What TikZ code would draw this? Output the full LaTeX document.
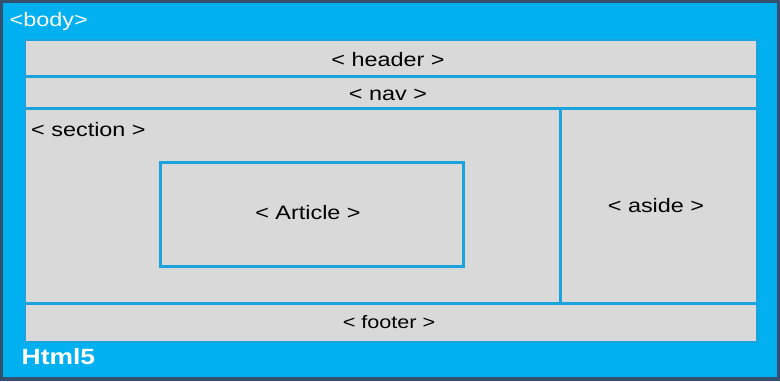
\documentclass[tikz,border=0pt]{standalone}
\usepackage{fontspec}
\setmainfont{Liberation Sans}
\definecolor{outerdark}{HTML}{34506E}
\definecolor{bodyblue}{HTML}{00B0F0}
\definecolor{lineblue}{HTML}{1BA3DD}
\definecolor{panelgray}{HTML}{D9D9D9}
\newcommand\hstretch[1]{\scalebox{1.2}[1]{#1}}
\tikzset{
  band/.style={rectangle, fill=panelgray, draw=lineblue, line width=2.6pt, anchor=north west, inner sep=0pt},
  lbl/.style={anchor=base, inner sep=0pt, text=black, font=\fontsize{19.5}{20}\selectfont},
  smalllbl/.style={lbl, font=\fontsize{18}{19}\selectfont},
  whitelbl/.style={anchor=base west, inner sep=0pt, text=white}
}
\begin{document}
\begin{tikzpicture}[x=1pt,y=-1pt]
\useasboundingbox (0,0) rectangle (780,381);
\fill[outerdark] (0,0) rectangle (780,381);
\node[fill=bodyblue, anchor=north west, inner sep=0pt, minimum width=774.5, minimum height=374.5] (body) at (2.5,2.5) {};
% bands
\node[band, minimum width=732.6, minimum height=36.3] (header) at (23.7,38.7) {};
\node[band, minimum width=732.6, minimum height=32] (nav) at (23.7,75) {};
\node[band, minimum width=535.3, minimum height=195] (section) at (23.7,107) {};
\node[band, minimum width=197.3, minimum height=195] (aside) at (559,107) {};
\node[band, minimum width=732.6, minimum height=38.6] (footer) at (23.7,302) {};
\node[band, minimum width=303, minimum height=104] (article) at (159,161) {};
% labels
\node[whitelbl, font=\fontsize{19.5}{20}\selectfont] (bodylbl) at (9.5,26) {\hstretch{<body>}};
\node[whitelbl, font=\fontsize{22}{23}\selectfont\bfseries] (htmllbl) at (21.5,364) {\hstretch{Html5}};
\node[lbl] (headerlbl) at (388,66) {\hstretch{< header >}};
\node[lbl] (navlbl) at (388,100) {\hstretch{< nav >}};
\node[lbl, anchor=base west] (sectionlbl) at (31,136) {\hstretch{< section >}};
\node[lbl] (articlelbl) at (308,219) {\hstretch{< Article >}};
\node[lbl] (asidelbl) at (656,212) {\hstretch{< aside >}};
\node[smalllbl] (footerlbl) at (389,328) {\hstretch{< footer >}};
\end{tikzpicture}
\end{document}
